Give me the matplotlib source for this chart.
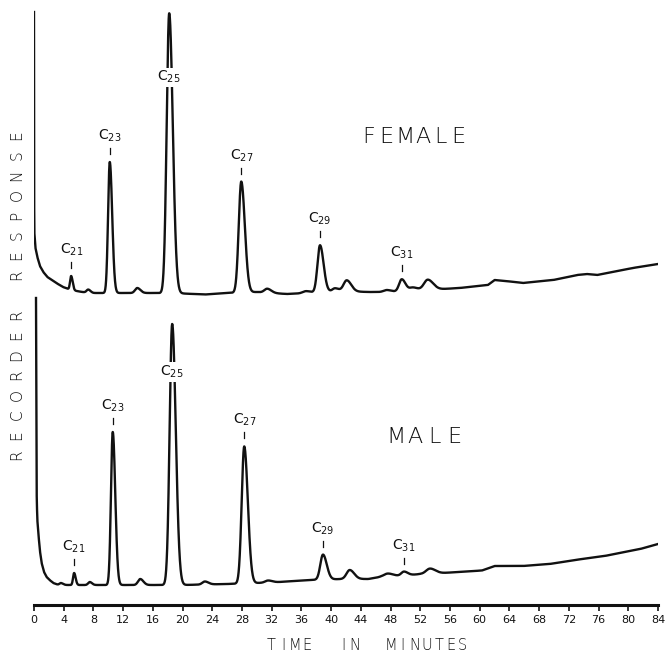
import numpy as np
import matplotlib
matplotlib.use("Agg")
import matplotlib.pyplot as plt
from matplotlib.transforms import offset_copy

# ---------------- data ----------------
time_ticks = list(range(0, 85, 4))

# Female extract: resolved peaks (retention time in min, height, width in min)
female_peak_time = [5.0, 7.3, 10.2, 13.9, 18.2, 27.9, 31.4, 36.6, 38.5, 40.5, 42.1, 47.5, 49.5, 51.0, 53.0]
female_peak_height = [14, 3, 131, 5, 280, 111, 4, 2, 47, 3, 11, 2, 12, 3, 10]
female_peak_width = [0.17, 0.25, 0.27, 0.35, 0.40, 0.40, 0.45, 0.5, 0.40, 0.4, 0.5, 0.5, 0.42, 0.5, 0.6]
female_peak_label = ["21", "", "23", "", "25", "27", "", "", "29", "", "", "", "31", "", ""]

# Female solvent front (time, response)
female_solvent_time = [0.0, 0.02, 0.05, 0.2, 0.45, 0.8, 1.25, 1.8, 2.4, 3.0, 3.9, 5.0, 6.5, 8.0]
female_solvent_resp = [281, 93, 60, 45, 36, 27, 21, 16, 13, 10, 6, 3, 1, 0]

# Female baseline drift (time, response)
female_base_time = [0, 9, 16, 20, 23, 26, 30, 34, 37, 41, 45, 48, 52, 55, 57.3, 61.1, 62.0, 63.5,
                    65.8, 69.9, 73.1, 74.4, 75.8, 77.9, 80.6, 84]
female_base_resp = [0, 0, 0, -0.5, -1.5, 0, 1, -1, 0, 2, 1, 1, 3, 4, 5, 8, 13, 12,
                    10, 13, 18, 19, 18, 21, 25, 29]

# Male extract
male_peak_time = [3.6, 5.4, 7.5, 10.6, 14.3, 18.6, 23.0, 28.3, 31.5, 38.9, 42.5, 47.6, 49.8, 53.3]
male_peak_height = [2, 12, 3, 153, 6, 261, 3, 137, 2, 25, 9, 3, 4, 5]
male_peak_width = [0.25, 0.17, 0.25, 0.28, 0.35, 0.40, 0.4, 0.40, 0.45, 0.42, 0.5, 0.6, 0.42, 0.6]
male_peak_label = ["", "21", "", "23", "", "25", "", "27", "", "29", "", "", "31", ""]

male_solvent_time = [0.27, 0.33, 0.37, 0.45, 0.58, 0.8, 1.03, 1.35, 1.7, 2.1, 2.6, 3.3]
male_solvent_resp = [287, 150, 85, 65, 52, 34, 22, 13, 8, 5, 2, 0]

male_base_time = [0, 20, 26, 30, 33, 37, 41.6, 45, 46.6, 50, 52, 55, 60.3, 62.0, 65.8, 69.4,
                  72.8, 76.8, 81.6, 84]
male_base_resp = [0, 0, 1, 2, 3, 5, 6, 6, 8, 9.5, 11, 12, 14.5, 19, 19, 21,
                  25, 29, 36, 41]

# ---------------- layout / style ----------------
W, H, DPI = 668, 653, 100
female_offset = 312     # vertical placement of each trace on the chart paper
male_offset = 20
female_label_lift = {"25": -64}  # C25 label sits on the peak itself
male_label_lift = {"25": -48}
INK = "#111111"


def trace(t, ptime, pheight, pwidth, stime, sresp, btime, bresp):
    y = np.interp(t, btime, bresp) + np.interp(t, stime, sresp, left=sresp[0], right=0)
    for t0, h, w in zip(ptime, pheight, pwidth):
        s = np.where(t < t0, 0.85 * w, 1.2 * w)
        y = y + h * np.exp(-0.5 * ((t - t0) / s) ** 2)
    return y


fig = plt.figure(figsize=(W / DPI, H / DPI), dpi=DPI)
ax = fig.add_axes([34 / W, (H - 605) / H, 624 / W, 605 / H])
ax.set_xlim(0, 84)
ax.set_ylim(0, 605)

traces = [
    (female_offset, female_peak_time, female_peak_height, female_peak_width, female_peak_label,
     female_solvent_time, female_solvent_resp, female_base_time, female_base_resp, female_label_lift),
    (male_offset, male_peak_time, male_peak_height, male_peak_width, male_peak_label,
     male_solvent_time, male_solvent_resp, male_base_time, male_base_resp, male_label_lift),
]

for off, pt, ph, pw, pl, st, sr, bt, br, lifts in traces:
    t = np.linspace(st[0], 84, 6000)
    y = trace(t, pt, ph, pw, st, sr, bt, br) + off
    ax.plot(t, y, color=INK, lw=1.7, solid_joinstyle="round", zorder=2)
    for t0, name in zip(pt, pl):
        if not name:
            continue
        top = float(trace(np.array([t0]), pt, ph, pw, st, sr, bt, br)[0]) + off
        if name in lifts:
            ax.text(t0, top + lifts[name], r"C$_{%s}$" % name, ha="center", va="center",
                    fontsize=10, color=INK, zorder=3,
                    bbox=dict(facecolor="white", edgecolor="none", pad=1.0))
        else:
            ax.plot([t0, t0], [top + 8, top + 14], color=INK, lw=0.9, zorder=3)
            ax.text(t0, top + 18, r"C$_{%s}$" % name, ha="center", va="bottom",
                    fontsize=10, color=INK, zorder=3)


def spaced(x, y, text, transform, pitch_pt, vertical=False, **kw):
    """Draw text letter by letter on an even pitch, like stencil lettering."""
    n = len(text)
    for i, ch in enumerate(text):
        if ch == " ":
            continue
        d = (i - (n - 1) / 2) * pitch_pt
        if vertical:
            tr = offset_copy(transform, fig=fig, x=0, y=d, units="points")
        else:
            tr = offset_copy(transform, fig=fig, x=d, y=0, units="points")
        fig.text(x, y, ch, transform=tr, ha="center", va="center",
                 rotation=90 if vertical else 0, color=INK, **kw)


# panel titles
spaced(51.1, 468, "FEMALE", ax.transData, 12.9, fontsize=16, fontweight="light")
spaced(52.6, 168, "MALE", ax.transData, 14.0, fontsize=16, fontweight="light")

# axis titles
spaced(17 / W, (H - 295) / H, "RECORDER RESPONSE", fig.transFigure, 14.4, vertical=True,
       fontsize=11, fontweight="light")
spaced(367 / W, (H - 645) / H, "TIME  IN  MINUTES", fig.transFigure, 8.6,
       fontsize=10.5, fontweight="light")

# axes styling
for side in ("left", "top", "right"):
    ax.spines[side].set_visible(False)
ax.spines["bottom"].set_linewidth(2.2)
ax.spines["bottom"].set_color(INK)
ax.set_yticks([])
ax.set_xticks(time_ticks)
ax.set_xticklabels([str(v) for v in time_ticks], fontsize=8, color=INK)
ax.tick_params(axis="x", direction="out", length=4.5, width=1.2, pad=3, color=INK)

fig.savefig("out.png", dpi=DPI)
